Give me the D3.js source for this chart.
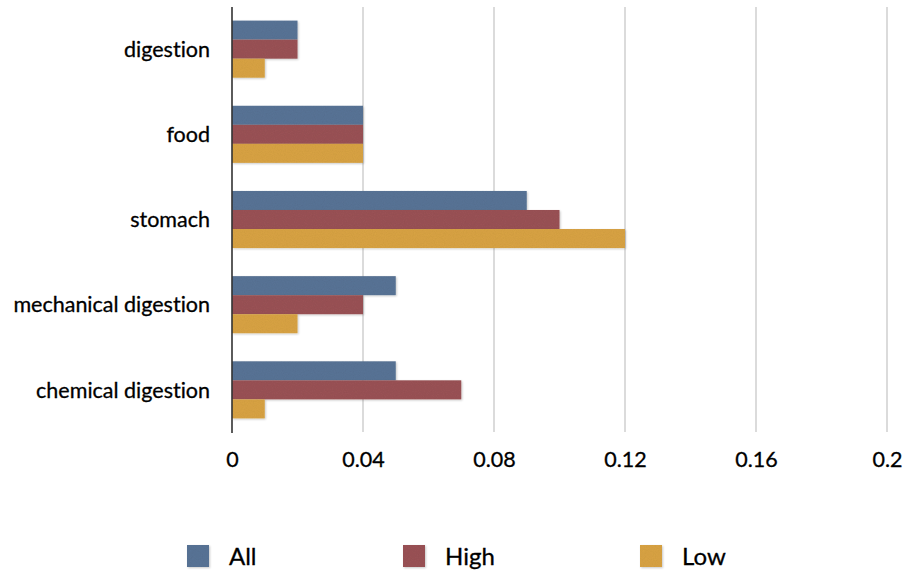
<!DOCTYPE html>
<html>
<head>
<meta charset="utf-8">
<script src="https://cdn.jsdelivr.net/npm/d3@7"></script>
<style>
  html, body { margin: 0; padding: 0; background: #fff; }
  svg { display: block; }
  text { font-family: "Lato", "Noto Sans", sans-serif; fill: #000; stroke: #000; stroke-width: 0.3px;
         font-variant-ligatures: none; font-feature-settings: "liga" 0, "clig" 0; }
</style>
</head>
<body>
<svg id="chart" width="906" height="578"></svg>
<script>
// Word frequencies per group
const categories = ["digestion", "food", "stomach", "mechanical digestion", "chemical digestion"];
const seriesNames = ["All", "High", "Low"];
const allValues  = [0.02, 0.04, 0.09, 0.05, 0.05];
const highValues = [0.02, 0.04, 0.10, 0.04, 0.07];
const lowValues  = [0.01, 0.04, 0.12, 0.02, 0.01];
const tickValues = [0, 0.04, 0.08, 0.12, 0.16, 0.2];
const tickLabels = ["0", "0.04", "0.08", "0.12", "0.16", "0.2"];
const colors = ["#5a7597", "#9b5356", "#daa445"];

const seriesValues = [allValues, highValues, lowValues];

const svg = d3.select("#chart");
const plotLeft = 232, plotRight = 887, plotTop = 7, plotBottom = 432;

const x = d3.scaleLinear().domain([0, 0.2]).range([plotLeft, plotRight]);
const y = d3.scaleBand().domain(categories).range([plotTop, plotBottom]).paddingInner(0.33).paddingOuter(0.16);
const ySub = d3.scaleBand().domain(seriesNames).range([0, y.bandwidth()]);

// Paper-like grain and a soft shadow for the bars
const defs = svg.append("defs");
const f = defs.append("filter").attr("id", "grain")
  .attr("x", "-5%").attr("y", "-10%").attr("width", "115%").attr("height", "140%");
f.append("feTurbulence").attr("type", "fractalNoise").attr("baseFrequency", 0.9)
  .attr("numOctaves", 2).attr("seed", 3).attr("result", "noise");
f.append("feColorMatrix").attr("in", "noise").attr("type", "matrix")
  .attr("values", "0 0 0 0 0  0 0 0 0 0  0 0 0 0 0  0 0 0 0.12 0").attr("result", "dark");
f.append("feComposite").attr("in", "dark").attr("in2", "SourceGraphic").attr("operator", "in").attr("result", "grainOnly");
f.append("feGaussianBlur").attr("in", "SourceAlpha").attr("stdDeviation", 1.3).attr("result", "blur");
f.append("feOffset").attr("in", "blur").attr("dx", 1).attr("dy", 1).attr("result", "offBlur");
f.append("feComponentTransfer").attr("in", "offBlur").attr("result", "shadow")
  .append("feFuncA").attr("type", "linear").attr("slope", 0.22);
const merge = f.append("feMerge");
merge.append("feMergeNode").attr("in", "shadow");
merge.append("feMergeNode").attr("in", "SourceGraphic");
merge.append("feMergeNode").attr("in", "grainOnly");

// Vertical gridlines
svg.append("g").selectAll("line").data(tickValues.slice(1)).join("line")
  .attr("x1", d => x(d)).attr("x2", d => x(d))
  .attr("y1", plotTop).attr("y2", plotBottom)
  .attr("stroke", "#c8c8c8").attr("stroke-width", 1.3);

// Bars
const groups = svg.append("g").selectAll("g").data(categories).join("g")
  .attr("transform", c => `translate(0,${y(c)})`);
groups.selectAll("rect")
  .data((c, i) => seriesNames.map((s, j) => ({ s, j, v: seriesValues[j][i] })))
  .join("rect")
  .attr("x", x(0))
  .attr("y", d => ySub(d.s))
  .attr("width", d => x(d.v) - x(0))
  .attr("height", ySub.bandwidth())
  .attr("fill", d => colors[d.j])
  .attr("filter", "url(#grain)");

// Category axis line
svg.append("line")
  .attr("x1", plotLeft).attr("x2", plotLeft).attr("y1", plotTop).attr("y2", plotBottom + 1)
  .attr("stroke", "#333").attr("stroke-width", 1.6);

// Category labels
svg.append("g").selectAll("text").data(categories).join("text")
  .attr("x", plotLeft - 22)
  .attr("y", c => y(c) + y.bandwidth() / 2)
  .attr("dy", "0.36em")
  .attr("text-anchor", "end")
  .style("font-size", "21.5px")
  .text(c => c);

// Value axis
const xAxis = d3.axisBottom(x).tickValues(tickValues)
  .tickFormat((d, i) => tickLabels[i]).tickSize(0).tickPadding(0);
const gx = svg.append("g").attr("transform", `translate(0,${plotBottom})`).call(xAxis);
gx.select(".domain").remove();
gx.selectAll("text").attr("y", 35).attr("dy", 0).style("font-size", "21.5px")
  .style("font-family", '"Lato", "Noto Sans", sans-serif').attr("fill", "#000");

// Legend
const legendX = [187, 403, 640];
const legend = svg.append("g").selectAll("g").data(seriesNames).join("g")
  .attr("transform", (d, i) => `translate(${legendX[i]},545)`);
legend.append("rect").attr("width", 22).attr("height", 22)
  .attr("fill", (d, i) => colors[i]).attr("filter", "url(#grain)");
legend.append("text").attr("x", 42).attr("y", 11).attr("dy", "0.36em")
  .style("font-size", "24px").text(d => d);
</script>
</body>
</html>
